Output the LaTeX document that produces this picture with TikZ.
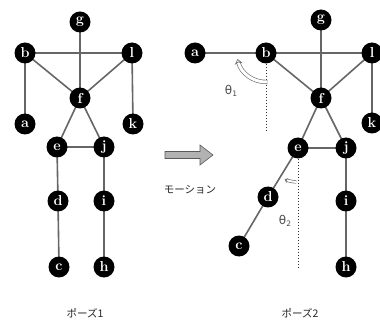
\documentclass[tikz,border=0pt]{standalone}
\usepackage{fontspec}
\newfontfamily\jp{Noto Sans CJK JP}
\newfontfamily\thf{DejaVu Sans}
\usetikzlibrary{arrows.meta,backgrounds}
\begin{document}
\begin{tikzpicture}[x=1pt,y=-1pt,
  jt/.style={circle,fill=black,inner sep=0pt,minimum size=21pt,text=white,font=\bfseries\Large},
  bone/.style={draw=gray!80!black,line width=1.6pt},
  vert/.style={draw=black!80,line width=1pt,dotted},
  ang/.style={draw=gray!80!black,line width=0.6pt,double=white,double distance=3pt},
  lab/.style={font=\jp\fontsize{10.5}{12}\selectfont,text=black!85},
  th/.style={text=black!70,font=\thf\fontsize{12}{13}\selectfont}]
\useasboundingbox (0,0) rectangle (380,323);
% pose 1
\node[jt] (g1) at (80,22) {g};
\node[jt] (b1) at (25,53) {b};
\node[jt] (l1) at (132,53) {l};
\node[jt] (f1) at (80,98) {f};
\node[jt] (a1) at (25,124) {a};
\node[jt] (k1) at (133,124) {k};
\node[jt] (e1) at (57,147) {e};
\node[jt] (j1) at (104,147) {j};
\node[jt] (d1) at (58,201) {d};
\node[jt] (i1) at (104,201) {i};
\node[jt] (c1) at (59,267) {c};
\node[jt] (h1) at (104,267) {h};
% pose 2
\node[jt] (a2) at (195,53) {a};
\node[jt] (b2) at (266,53) {b};
\node[jt] (g2) at (321,20) {g};
\node[jt] (l2) at (372,53) {l};
\node[jt] (f2) at (321,98) {f};
\node[jt] (k2) at (372,123) {k};
\node[jt] (e2) at (298,148) {e};
\node[jt] (j2) at (346,148) {j};
\node[jt] (d2) at (268,197) {d};
\node[jt] (c2) at (239,246) {c};
\node[jt] (i2) at (346,201) {i};
\node[jt] (h2) at (346,267) {h};
% bones
\begin{scope}[on background layer]
\foreach \u/\v in {g1/f1,b1/l1,b1/f1,l1/f1,b1/a1,l1/k1,f1/e1,f1/j1,e1/j1,e1/d1,d1/c1,j1/i1,i1/h1}
  \path[bone] (\u.center) -- (\v.center);
\foreach \u/\v in {a2/b2,b2/l2,g2/f2,b2/f2,l2/f2,l2/k2,f2/e2,f2/j2,e2/j2,e2/d2,d2/c2,j2/i2,i2/h2}
  \path[bone] (\u.center) -- (\v.center);
\end{scope}
% reference verticals
\coordinate (v1) at (266,130);
\coordinate (v2) at (298,268);
\path[vert] (b2.south) -- (v1);
\path[vert] (e2.south) -- (v2);
% angle arcs
\path[ang,-{Stealth[open,length=5pt,width=8pt]}] ([shift={(87:29)}]b2.center) arc[start angle=87,end angle=168,radius=29];
\path[ang,double distance=2pt,-{Stealth[open,length=3pt,width=5pt]}] ([shift={(93:34)}]e2.center) arc[start angle=93,end angle=113,radius=34];
\node[th] (t1) at (231,91) {θ\raisebox{-0.35ex}{\fontsize{7.5}{8}\selectfont 1}};
\node[th] (t2) at (285,221) {θ\raisebox{-0.35ex}{\fontsize{7.5}{8}\selectfont 2}};
% motion arrow
\filldraw[fill=gray!60,draw=gray!70!black,line width=0.6pt]
  (165,151.5) -- (200,151.5) -- (200,145) -- (213,155) -- (200,165) -- (200,158.5) -- (165,158.5) -- cycle;
\node[lab] (mo) at (190,190) {モーション};
\node[lab] (p1) at (85,313) {ポーズ1};
\node[lab] (p2) at (300,313) {ポーズ2};
\end{tikzpicture}
\end{document}
